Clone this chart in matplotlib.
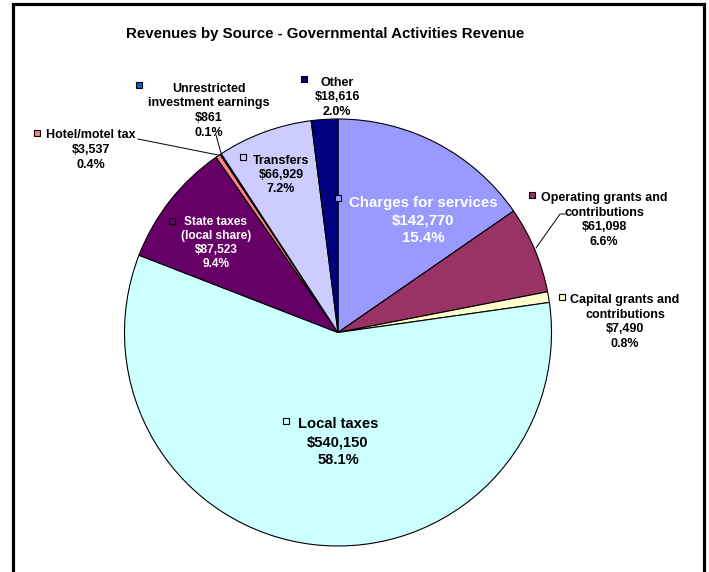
import matplotlib
matplotlib.use("Agg")
import matplotlib.pyplot as plt
from matplotlib.patches import Rectangle

categories = ["Charges for services", "Operating grants and\ncontributions",
              "Capital grants and\ncontributions", "Local taxes",
              "State taxes\n(local share)", "Hotel/motel tax",
              "Unrestricted\ninvestment earnings", "Transfers", "Other"]
values = [142770, 61098, 7490, 540150, 87523, 3537, 861, 66929, 18616]
colors = ["#9999FF", "#993366", "#FFFFCC", "#CCFFFF", "#660066",
          "#FF8080", "#0066CC", "#CCCCFF", "#000080"]

W, H = 709, 572
fig = plt.figure(figsize=(W / 100, H / 100), dpi=100)
ax = fig.add_axes([0, 0, 1, 1])

def Y(y):
    return H - y

cx, cy, r = 338, 332.5, 213.5
wedges, _ = ax.pie(values, colors=colors, startangle=90, counterclock=False,
                   center=(cx, Y(cy)), radius=r, frame=True,
                   wedgeprops=dict(edgecolor="black", linewidth=0.8))
ax.set_xlim(0, W)
ax.set_ylim(0, H)
ax.set_aspect("equal")
ax.axis("off")

total = sum(values)
FAM = ["Liberation Sans", "DejaVu Sans"]

# frame border
fig.patches.append(Rectangle((12.5 / W, -0.1), (704 - 12.5) / W, 1.1 - 3.5 / H,
                             transform=fig.transFigure, fill=False,
                             edgecolor="black", linewidth=2.3))

def lines_at(x, y0, step, lines, fs, color):
    for k, s in enumerate(lines):
        yc = y0 + k * step
        ax.text(x, Y(yc + 0.36 * fs * 100 / 72), s, ha="center", va="baseline",
                fontsize=fs, fontweight="bold", color=color, family=FAM)

lines_at(325, 33, 0, ["Revenues by Source - Governmental Activities Revenue"],
         10.8, "black")

def label_lines(i):
    return categories[i].split("\n") + [
        "$" + format(values[i], ","), "%.1f%%" % (values[i] / total * 100)]

# (text center x, first-line center y, line step, marker x, marker y, fontsize, color)
layout = [
    (423, 202, 17.5, 338, 198, 10.8, "white"),
    (604, 197, 14.5, 532, 195, 9.0, "black"),
    (625, 299, 14.5, 562, 297, 9.0, "black"),
    (338, 423, 18.0, 286, 421, 10.6, "black"),
    (216, 221, 14.0, 172, 221, 8.6, "white"),
    (91, 134, 14.5, 37, 133, 9.0, "black"),
    (209, 87, 14.7, 139, 85, 9.0, "black"),
    (281, 159, 14.5, 243, 157, 9.0, "black"),
    (337, 81, 14.7, 304, 79, 9.0, "black"),
]

for i, (tx, ty, st, mx, my, fs, col) in enumerate(layout):
    lines_at(tx, ty, st, label_lines(i), fs, col)
    ax.add_patch(Rectangle((mx - 3, Y(my) - 3), 6, 6, facecolor=colors[i],
                           edgecolor="black", linewidth=0.8, zorder=5))

# leader lines
ax.plot([138, 218], [Y(139), Y(155)], color="black", lw=0.7)
ax.plot([216, 221], [Y(135), Y(153)], color="black", lw=0.7)
ax.plot([536, 560, 565], [Y(248), Y(214), Y(214)], color="black", lw=0.7)

fig.savefig("out.png", dpi=100)
